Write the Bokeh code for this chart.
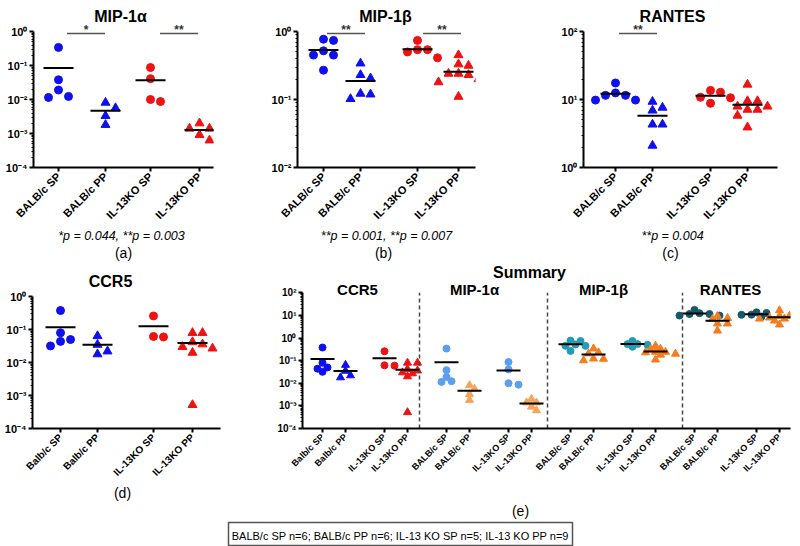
import math
import numpy as np
from bokeh.plotting import figure
from bokeh.layouts import column, row
from bokeh.models import FixedTicker, CustomJSTickFormatter, Label, Range1d
from bokeh.embed import file_html
from bokeh.resources import INLINE

FONT = "Liberation Sans"

# ---------------- data ----------------
groups_upper = ["BALB/c SP", "BALB/c PP", "IL-13KO SP", "IL-13KO PP"]
groups_lower = ["Balb/c SP", "Balb/c PP", "IL-13KO SP", "IL-13KO PP"]

mip1a_balb_sp = [0.34, 0.038, 0.019, 0.0115, 0.0123]
mip1a_balb_pp = [0.0081, 0.0056, 0.0033, 0.0018]
mip1a_ko_sp = [0.087, 0.041, 0.0087, 0.010]
mip1a_ko_pp = [0.0014, 0.0014, 0.0020, 0.00091, 0.00063]

mip1b_balb_sp = [0.74, 0.77, 0.45, 0.45, 0.52, 0.27]
mip1b_balb_pp = [0.34, 0.23, 0.205, 0.122, 0.119, 0.102]
mip1b_ko_sp = [0.54, 0.74, 0.41, 0.50, 0.54]
mip1b_ko_pp = [0.45, 0.33, 0.315, 0.24, 0.24, 0.23, 0.20, 0.18, 0.11]

rantes_balb_sp = [12.5, 17.5, 11.5, 11.5, 9.8, 9.8]
rantes_balb_pp = [9.3, 6.9, 7.6, 4.3, 4.3, 2.1]
rantes_ko_sp = [12.8, 13.6, 10.6, 10.8, 8.8]
rantes_ko_pp = [16.6, 9.5, 9.5, 7.9, 7.9, 7.1, 7.1, 5.8, 3.9]

ccr5_balb_sp = [0.38, 0.080, 0.050, 0.044, 0.032]
ccr5_balb_pp = [0.064, 0.035, 0.022, 0.018]
ccr5_ko_sp = [0.26, 0.060, 0.062]
ccr5_ko_pp = [0.080, 0.080, 0.036, 0.042, 0.030, 0.027, 0.020, 0.00052]

titles = ["MIP-1\u03b1", "MIP-1\u03b2", "RANTES", "CCR5"]
sig_a = ["*", "**"]
sig_b = ["**", "**"]
sig_c = ["**"]
ptext_a = "*p = 0.044, **p = 0.003"
ptext_b = "**p = 0.001, **p = 0.007"
ptext_c = "**p = 0.004"
panel_tags = ["(a)", "(b)", "(c)", "(d)", "(e)"]
summary_title = "Summary"
legend_text = "BALB/c SP n=6; BALB/c PP n=6; IL-13 KO SP n=5; IL-13 KO PP n=9"

# ---------------- styles ----------------
BLUE, RED = "#1010ee", "#ee1212"
LBLUE, LORANGE = "#5aa0ec", "#f5a55a"
TEAL, ORANGE, DTEAL = "#229db5", "#f57c1f", "#135b6c"

sup_fmt_code = """
const m = {'-':'\u207b','0':'\u2070','1':'\u00b9','2':'\u00b2','3':'\u00b3','4':'\u2074','5':'\u2075','6':'\u2076','7':'\u2077','8':'\u2078','9':'\u2079'};
const e = Math.round(Math.log10(tick));
return '10' + String(e).split('').map(c => m[c]).join('');
"""


def swarm(ypx, step, thresh):
    order = np.argsort(-ypx, kind="stable")
    placed = []
    offs = np.zeros(len(ypx))
    cands = [0.0] + [s * k * step for k in range(1, 14) for s in (1, -1)]
    for i in order:
        for c in cands:
            if all((c - px) ** 2 + (ypx[i] - py) ** 2 >= thresh ** 2 for px, py in placed):
                offs[i] = c
                placed.append((c, ypx[i]))
                break
    return offs


class Panel:
    pass


def log_fig(width, height, bl, br, bb, lo, hi, top_extra, ysize, xsize, positions, labels):
    P = Panel()
    fw = width - bl - br
    fh = height - bb
    axis_h = fh - top_extra
    ppd = axis_h / (hi - lo)
    P.fw, P.fh, P.ppd, P.lo, P.hi, P.axis_h = fw, fh, ppd, lo, hi, axis_h
    p = figure(width=width, height=height, y_axis_type="log",
               x_range=Range1d(0, fw),
               y_range=Range1d(10.0 ** lo, 10.0 ** (hi + top_extra / ppd)),
               output_backend="svg", toolbar_location=None,
               min_border_left=bl, min_border_right=br, min_border_top=0, min_border_bottom=bb)
    p.outline_line_color = None
    p.grid.visible = False
    p.background_fill_color = "white"
    p.border_fill_color = "white"
    p.yaxis.bounds = (10.0 ** lo, 10.0 ** hi)
    p.yaxis.ticker = FixedTicker(ticks=[10.0 ** e for e in range(lo, hi + 1)],
                                 minor_ticks=[m * 10.0 ** e for e in range(lo, hi) for m in range(2, 10)])
    p.yaxis.formatter = CustomJSTickFormatter(code=sup_fmt_code)
    p.xaxis.ticker = FixedTicker(ticks=list(positions))
    p.xaxis.major_label_overrides = {int(ps): lab for ps, lab in zip(positions, labels)}
    p.xaxis.major_label_orientation = math.pi / 4
    p.xaxis.minor_tick_line_color = None
    for ax in (p.xaxis, p.yaxis):
        ax.axis_line_width = 2
        ax.axis_line_color = "black"
        ax.major_tick_line_width = 2
        ax.major_tick_in = 0
        ax.major_tick_out = 4
        ax.major_label_text_font = FONT
        ax.major_label_text_font_style = "bold"
        ax.major_label_text_color = "black"
    p.yaxis.minor_tick_in = 0
    p.yaxis.minor_tick_out = 2
    p.yaxis.minor_tick_line_width = 1
    p.yaxis.major_label_standoff = 2
    p.xaxis.major_label_standoff = 3
    p.yaxis.major_label_text_font_size = ysize
    p.xaxis.major_label_text_font_size = xsize
    P.p = p
    return P


def add_groups(P, positions, series, colors, markers, csize, tsize, step, thresh, half):
    p = P.p
    for pos, vals, col, mk in zip(positions, series, colors, markers):
        v = np.array(vals, dtype=float)
        ypx = (np.log10(v) - P.lo) * P.ppd
        offs = swarm(ypx, step, thresh)
        p.scatter(x=pos + offs, y=v, marker=mk, size=(csize if mk == "circle" else tsize),
                  fill_color=col, line_color=col)
    for pos, vals in zip(positions, series):
        m = float(np.mean(vals))
        p.segment(x0=[pos - half], x1=[pos + half], y0=[m], y1=[m], line_color="black", line_width=2)


def add_label(p, x, y, text, size, style="normal", color="black", units="screen"):
    p.add_layout(Label(x=x, y=y, y_units=units, text=text, text_font=FONT,
                       text_font_size=size, text_font_style=style, text_color=color,
                       text_align="center", text_baseline="middle"))


def add_sig(P, x_sp, x_pp, star):
    mid = (x_sp + x_pp) / 2 + 4
    yb = 10 ** (P.hi - 2.0 / P.ppd)
    P.p.segment(x0=[mid - 19], x1=[mid + 19], y0=[yb], y1=[yb], line_color="#555555", line_width=1.3)
    add_label(P.p, mid, P.axis_h + 2, star, "12px", "bold", "#333333")


def strip(width, height):
    s = figure(width=width, height=height, x_range=Range1d(0, width), y_range=Range1d(0, height),
               output_backend="svg", toolbar_location=None,
               x_axis_location=None, y_axis_location=None, min_border=0)
    s.outline_line_color = None
    s.grid.visible = False
    return s


markers4 = ["circle", "triangle", "circle", "triangle"]
colors4 = [BLUE, BLUE, RED, RED]

# ---------------- row 1: frames from page y 0 to 167 ----------------
pos_a = [25, 72, 117, 166]
A = log_fig(265, 228, 33, 52, 61, -4, 0, 31, "11px", "11px", pos_a, groups_upper)
add_groups(A, pos_a, [mip1a_balb_sp, mip1a_balb_pp, mip1a_ko_sp, mip1a_ko_pp],
           colors4, markers4, 8, 9, 10, 8.5, 15)
add_sig(A, pos_a[0], pos_a[1], sig_a[0])
add_sig(A, pos_a[2], pos_a[3], sig_a[1])
add_label(A.p, 87, 151, titles[0], "16px", "bold")

pos_b = [26, 63, 120, 161]
B = log_fig(293, 228, 32, 83, 61, -2, 0, 31, "11px", "11px", pos_b, groups_upper)
add_groups(B, pos_b, [mip1b_balb_sp, mip1b_balb_pp, mip1b_ko_sp, mip1b_ko_pp],
           colors4, markers4, 8, 9, 10, 8.5, 15)
add_sig(B, pos_b[0], pos_b[1], sig_b[0])
add_sig(B, pos_b[2], pos_b[3], sig_b[1])
add_label(B.p, 88, 151, titles[1], "16px", "bold")

pos_c = [32, 69, 127, 164]
C = log_fig(242, 228, 25, 23, 61, 0, 2, 31, "11px", "11px", pos_c, groups_upper)
add_groups(C, pos_c, [rantes_balb_sp, rantes_balb_pp, rantes_ko_sp, rantes_ko_pp],
           colors4, markers4, 8, 9, 10, 8.5, 15)
add_sig(C, pos_c[0], pos_c[1], sig_c[0])
add_label(C.p, 89, 151, titles[2], "16px", "bold")

# strip under row 1 (page y 228..262)
s1 = strip(800, 34)
for x, t in zip([121, 386, 672], [ptext_a, ptext_b, ptext_c]):
    add_label(s1, x, 27, t, "12.5px", "italic", units="data")
for x, t in zip([123, 383, 670], panel_tags[:3]):
    add_label(s1, x, 10, t, "14px", units="data")

# ---------------- row 2: frames from page y 262 to 432 ----------------
pos_d = [28, 65, 121, 160]
D = log_fig(250, 222, 32, 30, 52, -4, 0, 35, "11px", "10px", pos_d, groups_lower)
add_groups(D, pos_d, [ccr5_balb_sp, ccr5_balb_pp, ccr5_ko_sp, ccr5_ko_pp],
           colors4, markers4, 8, 9, 10, 8.5, 15)
add_label(D.p, 78, 147, titles[3], "16px", "bold")

base_e = [20, 82, 144, 206, 268, 330, 392, 454]
pos_e = []
for b in base_e:
    pos_e += [b, b + 23]
labels_e = groups_lower + groups_upper * 3
E = log_fig(550, 222, 52, 10, 52, -4, 2, 31, "10px", "9px", pos_e, labels_e)
series_e = [ccr5_balb_sp, ccr5_balb_pp, ccr5_ko_sp, ccr5_ko_pp,
            mip1a_balb_sp, mip1a_balb_pp, mip1a_ko_sp, mip1a_ko_pp,
            mip1b_balb_sp, mip1b_balb_pp, mip1b_ko_sp, mip1b_ko_pp,
            rantes_balb_sp, rantes_balb_pp, rantes_ko_sp, rantes_ko_pp]
colors_e = [BLUE, BLUE, RED, RED,
            LBLUE, LORANGE, LBLUE, LORANGE,
            TEAL, ORANGE, TEAL, ORANGE,
            DTEAL, ORANGE, DTEAL, ORANGE]
add_groups(E, pos_e, series_e, colors_e, markers4 * 4, 7, 8, 5, 5.5, 12)
sep_x = [117, 245, 380]
E.p.segment(x0=sep_x, x1=sep_x, y0=[10.0 ** E.lo] * 3, y1=[10.0 ** E.hi] * 3,
            line_color="#444444", line_dash="4 3", line_width=1.5)
sub_x = [55, 172, 301, 428]
for sx, t in zip(sub_x, [titles[3], titles[0], titles[1], titles[2]]):
    add_label(E.p, sx, 139, t, "15px", "bold")
add_label(E.p, 227, 156, summary_title, "16px", "bold")

# strip under row 2 (page y 484..546): panel tags + legend box
s2 = strip(800, 62)
add_label(s2, 122, 54, panel_tags[3], "14px", units="data")
add_label(s2, 520, 36, panel_tags[4], "14px", units="data")
s2.quad(left=[228], right=[572], bottom=[1], top=[24], fill_color=None,
        line_color="#555555", line_width=1.5)
add_label(s2, 400, 11, legend_text, "11px", units="data")

layout = column(row(A.p, B.p, C.p), s1, row(D.p, E.p), s2)
open("out.html", "w").write(file_html(layout, INLINE))
